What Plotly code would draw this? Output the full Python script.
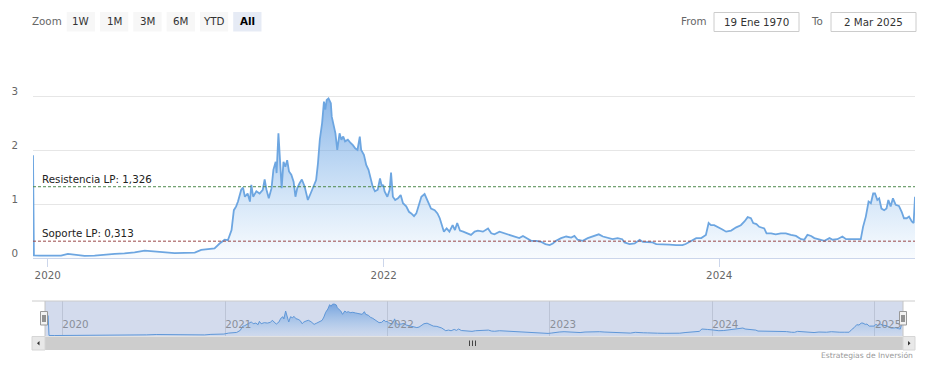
import plotly.graph_objects as go

# ---------------- data ----------------
dates = [
    "2019-11-30", "2019-12-02", "2019-12-15", "2020-01-06", "2020-01-30", "2020-02-14",
    "2020-02-28", "2020-03-21", "2020-04-12", "2020-05-04", "2020-05-26", "2020-06-16",
    "2020-07-08", "2020-07-30", "2020-08-21", "2020-09-11", "2020-10-03", "2020-10-25",
    "2020-11-16", "2020-11-30", "2020-12-14", "2020-12-29", "2021-01-09", "2021-01-20",
    "2021-01-27", "2021-02-04", "2021-02-09", "2021-02-14", "2021-02-18", "2021-02-25",
    "2021-03-01", "2021-03-05", "2021-03-11", "2021-03-16", "2021-03-19", "2021-03-23",
    "2021-03-30", "2021-04-06", "2021-04-13", "2021-04-17", "2021-04-21", "2021-04-26",
    "2021-05-02", "2021-05-06", "2021-05-11", "2021-05-13", "2021-05-17", "2021-05-20",
    "2021-05-24", "2021-05-28", "2021-06-01", "2021-06-05", "2021-06-09", "2021-06-14",
    "2021-06-19", "2021-06-23", "2021-06-27", "2021-07-02", "2021-07-07", "2021-07-13",
    "2021-07-20", "2021-07-26", "2021-08-02", "2021-08-07", "2021-08-11", "2021-08-15",
    "2021-08-20", "2021-08-24", "2021-08-27", "2021-08-30", "2021-09-03", "2021-09-08",
    "2021-09-10", "2021-09-15", "2021-09-18", "2021-09-22", "2021-09-27", "2021-10-01",
    "2021-10-05", "2021-10-09", "2021-10-15", "2021-10-21", "2021-10-26", "2021-10-31",
    "2021-11-05", "2021-11-10", "2021-11-13", "2021-11-19", "2021-11-24", "2021-11-29",
    "2021-12-03", "2021-12-08", "2021-12-13", "2021-12-19", "2021-12-24", "2021-12-28",
    "2021-12-31", "2022-01-03", "2022-01-09", "2022-01-14", "2022-01-17", "2022-01-21",
    "2022-01-26", "2022-02-01", "2022-02-07", "2022-02-12", "2022-02-19", "2022-02-25",
    "2022-03-02", "2022-03-08", "2022-03-13", "2022-03-19", "2022-03-24", "2022-03-31",
    "2022-04-04", "2022-04-09", "2022-04-14", "2022-04-22", "2022-04-28", "2022-05-03",
    "2022-05-12", "2022-05-18", "2022-05-24", "2022-05-31", "2022-06-05", "2022-06-10",
    "2022-06-16", "2022-06-23", "2022-06-30", "2022-07-10", "2022-07-18", "2022-07-25",
    "2022-08-05", "2022-08-16", "2022-08-23", "2022-08-30", "2022-09-10", "2022-09-21",
    "2022-10-02", "2022-10-13", "2022-10-23", "2022-10-31", "2022-11-08", "2022-11-18",
    "2022-11-29", "2022-12-10", "2022-12-19", "2022-12-28", "2023-01-04", "2023-01-11",
    "2023-01-22", "2023-02-02", "2023-02-13", "2023-02-20", "2023-02-27", "2023-03-10",
    "2023-03-21", "2023-04-01", "2023-04-14", "2023-04-23", "2023-05-03", "2023-05-14",
    "2023-05-25", "2023-06-04", "2023-06-09", "2023-06-20", "2023-07-01", "2023-07-12",
    "2023-07-19", "2023-07-30", "2023-08-09", "2023-08-17", "2023-08-31", "2023-09-15",
    "2023-09-29", "2023-10-13", "2023-10-20", "2023-11-01", "2023-11-12", "2023-11-23",
    "2023-12-03", "2023-12-09", "2023-12-14", "2023-12-21", "2024-01-01", "2024-01-08",
    "2024-01-16", "2024-01-27", "2024-02-07", "2024-02-17", "2024-02-25", "2024-03-03",
    "2024-03-10", "2024-03-15", "2024-03-22", "2024-03-28", "2024-04-08", "2024-04-13",
    "2024-04-23", "2024-05-03", "2024-05-14", "2024-05-25", "2024-06-05", "2024-06-16",
    "2024-06-27", "2024-07-04", "2024-07-11", "2024-07-19", "2024-07-26", "2024-08-06",
    "2024-08-17", "2024-08-28", "2024-09-04", "2024-09-14", "2024-09-25", "2024-10-03",
    "2024-10-14", "2024-10-25", "2024-11-04", "2024-11-09", "2024-11-15", "2024-11-21",
    "2024-11-26", "2024-12-01", "2024-12-05", "2024-12-10", "2024-12-14", "2024-12-19",
    "2024-12-25", "2024-12-30", "2025-01-03", "2025-01-08", "2025-01-13", "2025-01-19",
    "2025-01-26", "2025-02-01", "2025-02-06", "2025-02-12", "2025-02-17", "2025-02-23",
    "2025-02-27", "2025-03-02",
]
values = [
    1.91, 0.05, 0.045, 0.045, 0.043, 0.075,
    0.065, 0.04, 0.045, 0.065, 0.075, 0.087,
    0.105, 0.137, 0.125, 0.10, 0.09, 0.095,
    0.10, 0.15, 0.16, 0.18, 0.27, 0.34,
    0.33, 0.52, 0.89, 0.96, 1.05, 1.27,
    1.31, 1.14, 1.20, 1.05, 1.36, 1.14,
    1.24, 1.20, 1.27, 1.46, 1.27, 1.11,
    1.30, 1.64, 1.79, 1.58, 2.32, 1.79,
    1.30, 1.79, 1.70, 1.82, 1.61, 1.55,
    1.42, 1.14, 1.30, 1.39, 1.46, 1.33,
    1.08, 1.20, 1.33, 1.45, 1.76, 2.20,
    2.51, 2.91, 2.76, 2.94, 2.97, 2.88,
    2.63, 2.45, 2.32, 2.01, 2.32, 2.20,
    2.26, 2.17, 2.20, 2.14, 2.10, 2.04,
    2.01, 2.26, 2.01, 1.92, 1.73, 1.64,
    1.51, 1.33, 1.24, 1.27, 1.48, 1.33,
    1.36, 1.24, 1.14, 1.27, 1.59, 1.14,
    1.08, 1.11, 1.17, 1.02, 0.96, 0.86,
    0.83, 0.78, 0.83, 0.99, 1.14, 1.19,
    1.11, 0.99, 0.92, 0.89, 0.83, 0.74,
    0.49, 0.55, 0.49, 0.61, 0.52, 0.65,
    0.51, 0.49, 0.46, 0.43, 0.49, 0.51,
    0.49, 0.55, 0.46, 0.44, 0.49, 0.46,
    0.43, 0.40, 0.37, 0.41, 0.37, 0.32,
    0.32, 0.30, 0.26, 0.24, 0.27, 0.32,
    0.37, 0.40, 0.38, 0.41, 0.34, 0.32,
    0.37, 0.40, 0.44, 0.40, 0.37, 0.35,
    0.37, 0.35, 0.29, 0.26, 0.27, 0.34,
    0.30, 0.30, 0.29, 0.26, 0.26, 0.25,
    0.24, 0.24, 0.26, 0.32, 0.37, 0.37,
    0.43, 0.65, 0.61, 0.61, 0.57, 0.53,
    0.49, 0.51, 0.57, 0.61, 0.68, 0.76,
    0.74, 0.65, 0.63, 0.58, 0.55, 0.46,
    0.46, 0.44, 0.46, 0.46, 0.43, 0.41,
    0.35, 0.34, 0.43, 0.41, 0.37, 0.34,
    0.32, 0.37, 0.34, 0.35, 0.40, 0.35,
    0.35, 0.35, 0.35, 0.58, 0.77, 1.05,
    1.02, 1.20, 1.20, 1.08, 1.11, 0.92,
    0.89, 0.92, 1.08, 0.96, 1.11, 0.99,
    0.97, 0.86, 0.74, 0.74, 0.77, 0.68,
    0.65, 1.14,
]

RESISTANCE = 1.326
SUPPORT = 0.313
resistance_label = "Resistencia LP: 1,326"
support_label = "Soporte LP: 0,313"

y_tick_vals = [0, 1, 2, 3, 4]
y_tick_text = ["0", "1", "2", "3", ""]
x_tick_dates = ["2020-01-01", "2022-01-01", "2024-01-01"]
x_tick_text = ["2020", "2022", "2024"]
nav_tick_dates = ["2020-01-01", "2021-01-01", "2022-01-01", "2023-01-01", "2024-01-01", "2025-01-01"]
nav_tick_text = ["2020", "2021", "2022", "2023", "2024", "2025"]
x_range = ["2019-11-30", "2025-03-02"]
nav_range = ["2019-11-23", "2025-03-05"]

range_buttons = ["1W", "1M", "3M", "6M", "YTD", "All"]
selected_button = "All"
from_text = "19 Ene 1970"
to_text = "2 Mar 2025"
credit_text = "Estrategias de Inversión"

# ---------------- layout geometry (screen pixels) ----------------
SCREEN_W, SCREEN_H = 931, 368
PAGE_OFF = 8                    # default body margin of the page
W, H = SCREEN_W - PAGE_OFF, SCREEN_H - PAGE_OFF
PLOT_L, PLOT_R, PLOT_T, PLOT_B = 33, 915, 43, 350   # screen coords of the plotting block
L = PLOT_L - PAGE_OFF
T = PLOT_T - PAGE_OFF
R = W - (PLOT_R - PAGE_OFF)
B = H - (PLOT_B - PAGE_OFF)
PW, PH = W - L - R, H - T - B
FONT = "DejaVu Sans"
FS = 10.3


def px(x):
    return (x - PLOT_L) / PW


def py(y):
    return (PLOT_B - y) / PH


fig = go.Figure()

fig.add_trace(go.Scatter(
    x=dates, y=values, mode="lines", xaxis="x", yaxis="y",
    line=dict(color="#6da6e1", width=1.8),
    fill="tozeroy",
    fillgradient=dict(type="vertical",
                      colorscale=[[0, "rgba(124,181,236,0.05)"], [1, "rgba(96,156,224,0.72)"]]),
    hoverinfo="skip",
))
fig.add_trace(go.Scatter(
    x=dates, y=values, mode="lines", xaxis="x2", yaxis="y2",
    line=dict(color="#5f97d8", width=1),
    fill="tozeroy",
    fillgradient=dict(type="vertical",
                      colorscale=[[0, "rgba(124,181,236,0.05)"], [1, "rgba(80,140,215,0.7)"]]),
    hoverinfo="skip",
))

shapes = []
annotations = []

# plot lines (support / resistance)
for val, color, label in [(RESISTANCE, "#4e8a4e", resistance_label),
                          (SUPPORT, "#9a4848", support_label)]:
    shapes.append(dict(type="line", xref="x domain", yref="y", x0=0, x1=1, y0=val, y1=val,
                       line=dict(color=color, width=1, dash="3px,2px"), layer="above"))
    annotations.append(dict(text=label, xref="paper", yref="y", x=px(40), y=val,
                            xanchor="left", yanchor="bottom", showarrow=False, yshift=0,
                            font=dict(family=FONT, size=FS, color="#222")))

# navigator mask
shapes.append(dict(type="rect", xref="x2 domain", yref="y2 domain", x0=0, x1=1, y0=0, y1=1,
                   fillcolor="#d3dbed", line=dict(width=0), layer="below"))
# navigator outline
shapes.append(dict(type="line", xref="paper", yref="paper", x0=px(32), x1=px(915),
                   y0=py(301), y1=py(301), line=dict(color="#cccccc", width=1)))
for xe in (45, 903):
    shapes.append(dict(type="line", xref="paper", yref="paper", x0=px(xe), x1=px(xe),
                       y0=py(301), y1=py(336), line=dict(color="#c4c4c4", width=1)))

# scrollbar
shapes.append(dict(type="rect", xref="paper", yref="paper", x0=px(32), x1=px(915),
                   y0=py(350), y1=py(336.5), fillcolor="#f2f2f2", line=dict(width=0)))
shapes.append(dict(type="rect", xref="paper", yref="paper", x0=px(45), x1=px(903),
                   y0=py(350), y1=py(336.5), fillcolor="#cdcdcd", line=dict(width=0)))
for x0, x1 in ((32, 45), (903, 915)):
    shapes.append(dict(type="rect", xref="paper", yref="paper", x0=px(x0), x1=px(x1),
                       y0=py(350), y1=py(336.5), fillcolor="#e8e8e8",
                       line=dict(color="#d6d6d6", width=1)))
shapes.append(dict(type="path", xref="paper", yref="paper",
                   path=f"M {px(37)} {py(343.2)} L {px(39.5)} {py(341)} L {px(39.5)} {py(345.4)} Z",
                   fillcolor="#333", line=dict(width=0)))
shapes.append(dict(type="path", xref="paper", yref="paper",
                   path=f"M {px(910.5)} {py(343.2)} L {px(908)} {py(341)} L {px(908)} {py(345.4)} Z",
                   fillcolor="#333", line=dict(width=0)))
for gx in (469.5, 472.5, 475.5):
    shapes.append(dict(type="line", xref="paper", yref="paper", x0=px(gx), x1=px(gx),
                       y0=py(340.5), y1=py(346), line=dict(color="#444", width=1)))

# navigator handles
for hc in (44, 903):
    shapes.append(dict(type="rect", xref="paper", yref="paper", x0=px(hc - 3.5), x1=px(hc + 3.5),
                       y0=py(325), y1=py(311.5), fillcolor="#f2f2f2",
                       line=dict(color="#999999", width=1)))
    for dx in (-1, 1):
        shapes.append(dict(type="line", xref="paper", yref="paper", x0=px(hc + dx), x1=px(hc + dx),
                           y0=py(315), y1=py(322), line=dict(color="#333", width=1)))

# zoom buttons
annotations.append(dict(text="Zoom", xref="paper", yref="paper", x=px(47), y=py(21.5),
                        xanchor="center", yanchor="middle", showarrow=False,
                        font=dict(family=FONT, size=FS, color="#666")))
for i, lab in enumerate(range_buttons):
    x0 = 66.7 + 33.3 * i
    x1 = x0 + 28.3
    sel = lab == selected_button
    shapes.append(dict(type="rect", xref="paper", yref="paper", x0=px(x0), x1=px(x1),
                       y0=py(31.5), y1=py(12), fillcolor="#e6ebf5" if sel else "#f7f7f7",
                       line=dict(width=0)))
    annotations.append(dict(text=f"<b>{lab}</b>" if sel else lab, xref="paper", yref="paper",
                            x=px((x0 + x1) / 2), y=py(21.5), xanchor="center", yanchor="middle",
                            showarrow=False,
                            font=dict(family=FONT, size=FS, color="#000" if sel else "#333")))

# date inputs
annotations.append(dict(text="From", xref="paper", yref="paper", x=px(694), y=py(21.5),
                        xanchor="center", yanchor="middle", showarrow=False,
                        font=dict(family=FONT, size=FS, color="#666")))
annotations.append(dict(text="To", xref="paper", yref="paper", x=px(817), y=py(21.5),
                        xanchor="center", yanchor="middle", showarrow=False,
                        font=dict(family=FONT, size=FS, color="#666")))
for (x0, x1), txt in (((714, 799), from_text), ((831, 916), to_text)):
    shapes.append(dict(type="rect", xref="paper", yref="paper", x0=px(x0), x1=px(x1),
                       y0=py(31.5), y1=py(12.5), fillcolor="white",
                       line=dict(color="#cccccc", width=1)))
    annotations.append(dict(text=txt, xref="paper", yref="paper", x=px((x0 + x1) / 2), y=py(21.8),
                            xanchor="center", yanchor="middle", showarrow=False,
                            font=dict(family=FONT, size=FS, color="#333")))

# credits
annotations.append(dict(text=credit_text, xref="paper", yref="paper", x=px(915), y=py(355.5),
                        xanchor="right", yanchor="middle", showarrow=False,
                        font=dict(family=FONT, size=7.6, color="#999")))

fig.update_layout(
    width=W, height=H,
    margin=dict(l=L, r=R, t=T, b=B, pad=0, autoexpand=False),
    paper_bgcolor="white", plot_bgcolor="white",
    showlegend=False, hovermode=False,
    font=dict(family=FONT, size=FS, color="#666"),
    xaxis=dict(domain=[0, 1], anchor="y", type="date", range=x_range, automargin=False,
               showgrid=False, zeroline=False, showline=True, linecolor="#ccd6eb", linewidth=1,
               ticks="outside", ticklen=8, tickcolor="#ccd6eb",
               tickvals=x_tick_dates, ticktext=x_tick_text,
               tickfont=dict(family=FONT, size=FS, color="#666")),
    yaxis=dict(domain=[py(258), 1], anchor="x", range=[0, 4], automargin=False,
               tickvals=y_tick_vals, ticktext=y_tick_text,
               showgrid=True, gridcolor="#e6e6e6", gridwidth=1, zeroline=False,
               showline=False, ticks="", ticklabelshift=-5, ticklabelstandoff=14,
               tickfont=dict(family=FONT, size=FS, color="#666")),
    xaxis2=dict(domain=[px(45), px(903)], anchor="y2", type="date", range=nav_range,
                automargin=False,
                showgrid=True, gridcolor="#bcc4d6", gridwidth=1, zeroline=False,
                showline=False, ticks="", tickvals=nav_tick_dates, ticktext=nav_tick_text,
                ticklabelposition="inside right",
                tickfont=dict(family=FONT, size=FS, color="#8a8f99")),
    yaxis2=dict(domain=[py(336), py(301)], anchor="x2", range=[0, 3.25], automargin=False,
                showgrid=False, zeroline=False, showline=False, showticklabels=False, ticks=""),
    shapes=shapes,
    annotations=annotations,
)

fig.write_html("out.html")
